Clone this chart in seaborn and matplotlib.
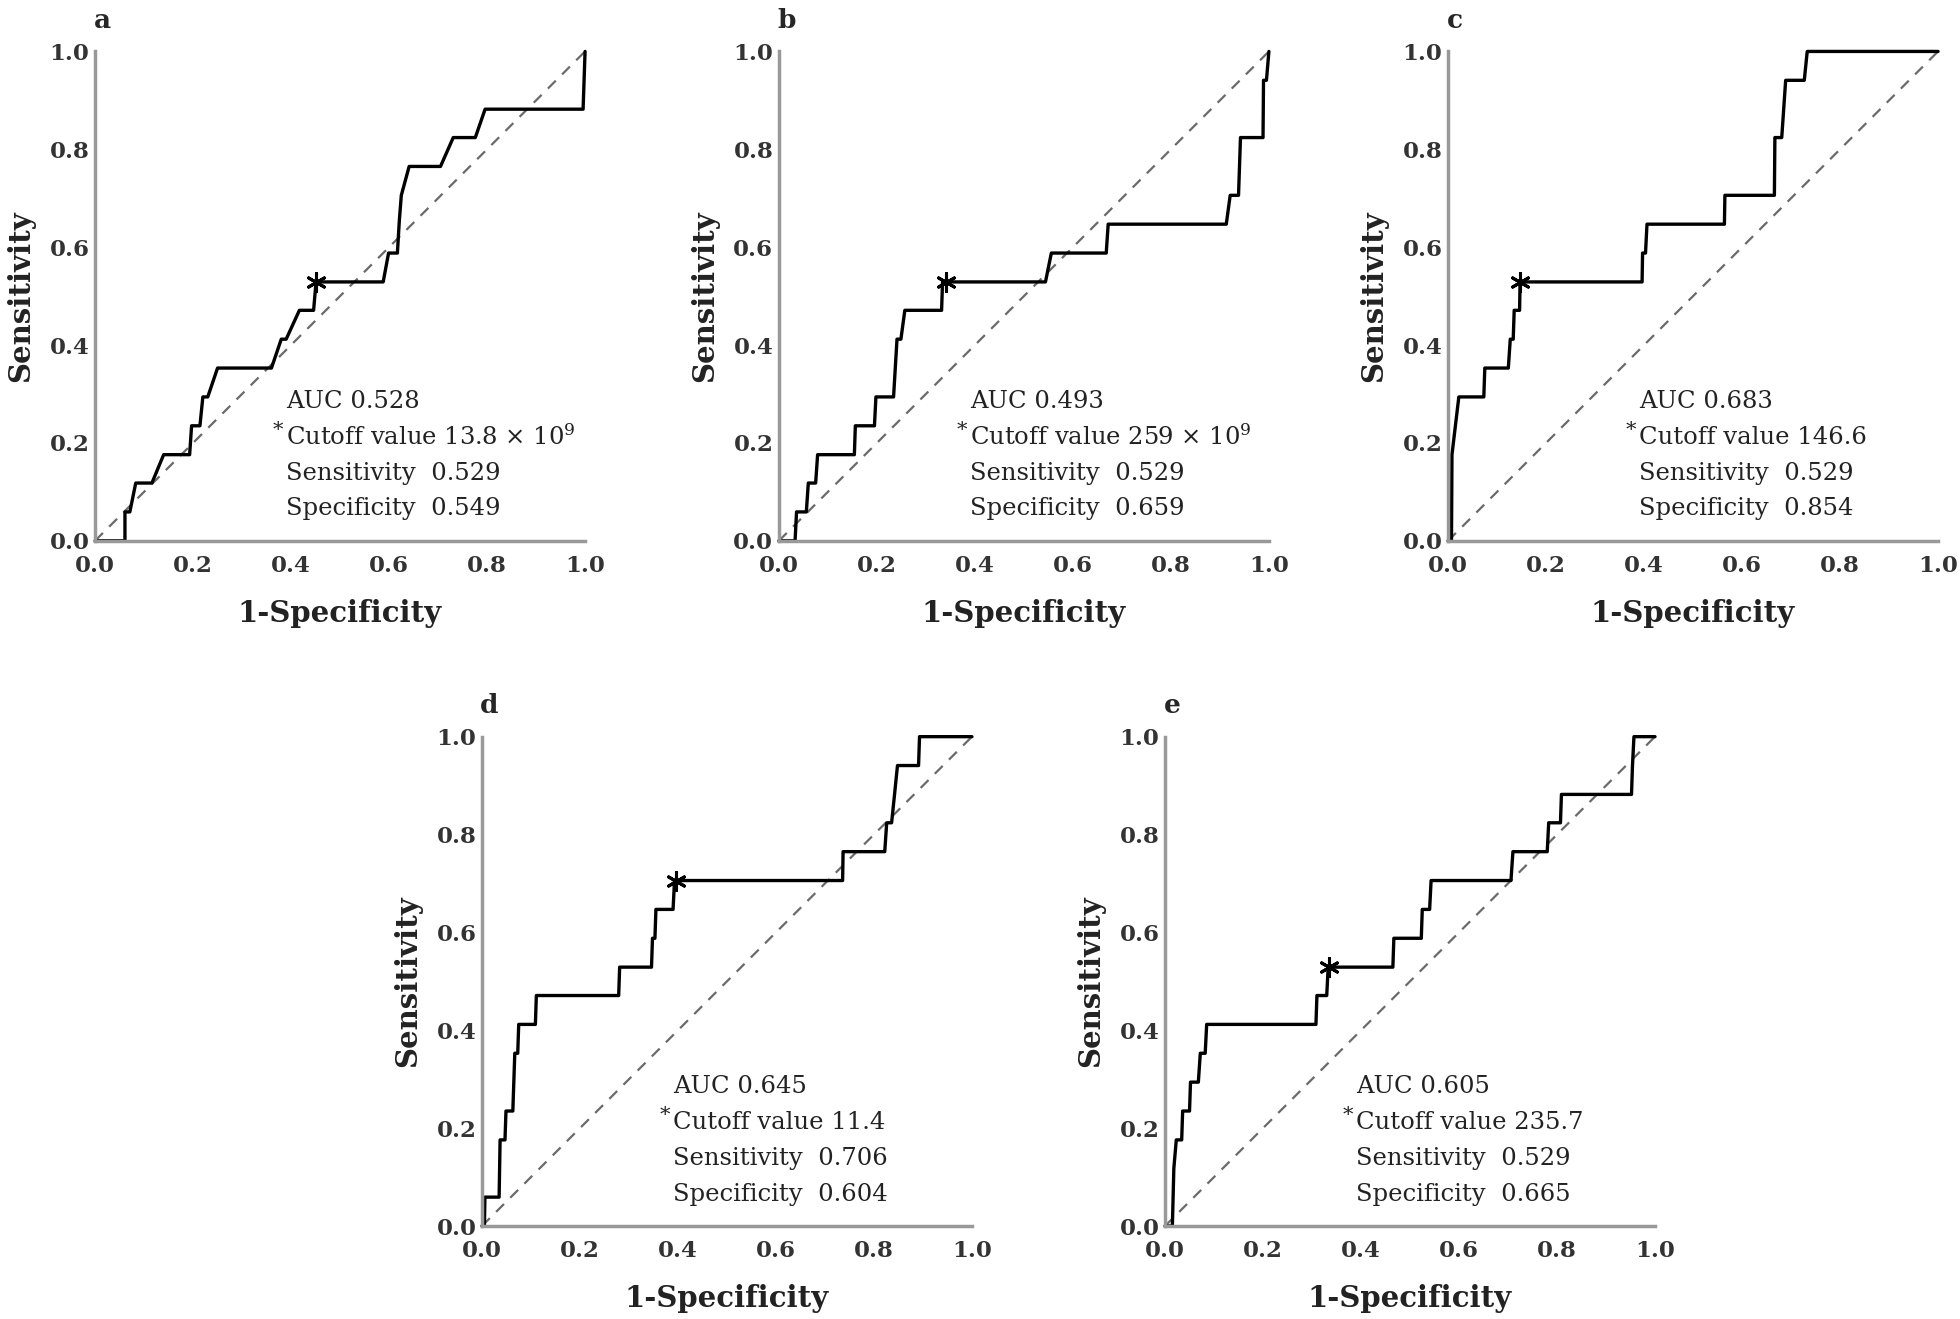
import numpy as np
import pandas as pd
import matplotlib
matplotlib.use("Agg")
import matplotlib.pyplot as plt
import seaborn as sns

sns.set_style("white")
plt.rcParams['font.family'] = ['DejaVu Serif']
plt.rcParams['mathtext.fontset'] = 'dejavuserif'

# ROC curves (1-specificity, sensitivity)
a_fpr = [0, 0.061, 0.061, 0.071, 0.083, 0.116, 0.140, 0.193, 0.197, 0.214, 0.220, 0.230, 0.250, 0.360, 0.380, 0.390,
         0.417, 0.446, 0.451, 0.588, 0.599, 0.617, 0.621, 0.625, 0.641, 0.705, 0.731, 0.776, 0.796, 0.996, 0.998, 1.0]
a_tpr = [0, 0, 0.059, 0.059, 0.118, 0.118, 0.176, 0.176, 0.235, 0.235, 0.294, 0.294, 0.353, 0.353, 0.412, 0.412,
         0.471, 0.471, 0.529, 0.529, 0.588, 0.588, 0.655, 0.706, 0.765, 0.765, 0.824, 0.824, 0.882, 0.882, 0.941, 1.0]

b_fpr = [0, 0.033, 0.036, 0.056, 0.060, 0.075, 0.079, 0.154, 0.156, 0.195, 0.198, 0.234, 0.241, 0.249, 0.257,
         0.332, 0.334, 0.544, 0.556, 0.668, 0.672, 0.913, 0.921, 0.938, 0.942, 0.988, 0.989, 0.995, 1.0]
b_tpr = [0, 0, 0.059, 0.059, 0.118, 0.118, 0.176, 0.176, 0.235, 0.235, 0.294, 0.294, 0.412, 0.412, 0.471,
         0.471, 0.529, 0.529, 0.588, 0.588, 0.647, 0.647, 0.706, 0.706, 0.824, 0.824, 0.941, 0.941, 1.0]

c_fpr = [0, 0.007, 0.008, 0.015, 0.022, 0.073, 0.075, 0.123, 0.127, 0.133, 0.135, 0.146, 0.147, 0.396, 0.397,
         0.403, 0.406, 0.564, 0.565, 0.666, 0.667, 0.681, 0.689, 0.727, 0.733, 1.0]
c_tpr = [0, 0, 0.176, 0.235, 0.294, 0.294, 0.353, 0.353, 0.412, 0.412, 0.471, 0.471, 0.529, 0.529, 0.588,
         0.588, 0.647, 0.647, 0.706, 0.706, 0.824, 0.824, 0.941, 0.941, 1.0, 1.0]

d_fpr = [0, 0.005, 0.006, 0.035, 0.037, 0.047, 0.049, 0.063, 0.067, 0.073, 0.075, 0.109, 0.111, 0.279, 0.281,
         0.346, 0.348, 0.353, 0.355, 0.390, 0.393, 0.736, 0.737, 0.822, 0.826, 0.836, 0.842, 0.848, 0.891, 0.893, 1.0]
d_tpr = [0, 0, 0.059, 0.059, 0.176, 0.176, 0.235, 0.235, 0.353, 0.353, 0.412, 0.412, 0.471, 0.471, 0.529,
         0.529, 0.588, 0.588, 0.647, 0.647, 0.706, 0.706, 0.765, 0.765, 0.824, 0.824, 0.882, 0.941, 0.941, 1.0, 1.0]

e_fpr = [0, 0.015, 0.018, 0.023, 0.034, 0.036, 0.050, 0.052, 0.068, 0.072, 0.082, 0.085, 0.308, 0.310, 0.330, 0.333,
         0.465, 0.467, 0.523, 0.525, 0.540, 0.543, 0.706, 0.710, 0.780, 0.783, 0.807, 0.809, 0.952, 0.954, 0.957, 1.0]
e_tpr = [0, 0, 0.118, 0.176, 0.176, 0.235, 0.235, 0.294, 0.294, 0.353, 0.353, 0.412, 0.412, 0.471, 0.471, 0.529,
         0.529, 0.588, 0.588, 0.647, 0.647, 0.706, 0.706, 0.765, 0.765, 0.824, 0.824, 0.882, 0.882, 0.941, 1.0, 1.0]

panel_letters = ["a", "b", "c", "d", "e"]
auc_values = ["0.528", "0.493", "0.683", "0.645", "0.605"]
cutoff_values = [r"13.8 × 10$^{9}$", r"259 × 10$^{9}$", "146.6", "11.4", "235.7"]
sens_values = ["0.529", "0.529", "0.529", "0.706", "0.529"]
spec_values = ["0.549", "0.659", "0.854", "0.604", "0.665"]
# cutoff point = (1 - specificity, sensitivity)
star_x = [0.451, 0.341, 0.146, 0.396, 0.335]
star_y = [0.529, 0.529, 0.529, 0.706, 0.529]

curves = [(a_fpr, a_tpr), (b_fpr, b_tpr), (c_fpr, c_tpr), (d_fpr, d_tpr), (e_fpr, e_tpr)]
ticks = [0.0, 0.2, 0.4, 0.6, 0.8, 1.0]
tick_labels = ["0.0", "0.2", "0.4", "0.6", "0.8", "1.0"]

fig = plt.figure(figsize=(19.6, 13.19), dpi=100)
w, h = 0.25, 0.371
positions = [(0.0485, 0.590), (0.3974, 0.590), (0.7388, 0.590), (0.2459, 0.0705), (0.5944, 0.0705)]

for i, (fpr, tpr) in enumerate(curves):
    ax = fig.add_axes([positions[i][0], positions[i][1], w, h])
    sns.lineplot(x=[0, 1], y=[0, 1], ax=ax, color="#6a6a6a", lw=1.6, linestyle=(0, (5, 4)))
    sns.lineplot(x=fpr, y=tpr, ax=ax, sort=False, estimator=None, color="black", lw=2.4)
    for ln in ax.lines:
        ln.set_clip_on(False)
    sns.scatterplot(x=[star_x[i]], y=[star_y[i]], ax=ax, marker=(6, 2, 0), s=170,
                    color="black", linewidth=2.2, zorder=5, clip_on=False)

    ax.set_xlim(0, 1)
    ax.set_ylim(0, 1)
    sns.despine(ax=ax)
    for sp in ["left", "bottom"]:
        ax.spines[sp].set_color("#999999")
        ax.spines[sp].set_linewidth(2.5)
    ax.set_xticks(ticks)
    ax.set_xticklabels(tick_labels)
    ax.set_yticks(ticks)
    ax.set_yticklabels(tick_labels)
    ax.tick_params(axis="both", length=0, labelsize=16.5, colors="#333333")
    ax.tick_params(axis="x", pad=10)
    ax.tick_params(axis="y", pad=4)
    for lab in ax.get_xticklabels() + ax.get_yticklabels():
        lab.set_fontweight("bold")

    ax.set_xlabel("1-Specificity", fontsize=21, fontweight="bold", color="#222222", labelpad=16)
    ax.set_ylabel("Sensitivity", fontsize=21, fontweight="bold", color="#222222", labelpad=10)

    ax.text(0.015, 1.064, panel_letters[i], transform=ax.transAxes, fontsize=19, fontweight="bold",
            ha="center", va="center")

    tx = 0.39
    ys = [0.285, 0.212, 0.138, 0.065]
    kw = dict(fontsize=17.5, color="#222222", ha="left", va="center")
    ax.text(tx, ys[0], "AUC " + auc_values[i], **kw)
    ax.text(tx, ys[1], "Cutoff value " + cutoff_values[i], **kw)
    ax.text(tx - 0.028, ys[1] + 0.013, "*", fontsize=15, color="#222222", ha="left", va="center")
    ax.text(tx, ys[2], "Sensitivity  " + sens_values[i], **kw)
    ax.text(tx, ys[3], "Specificity  " + spec_values[i], **kw)

fig.savefig("out.png", dpi=100)
